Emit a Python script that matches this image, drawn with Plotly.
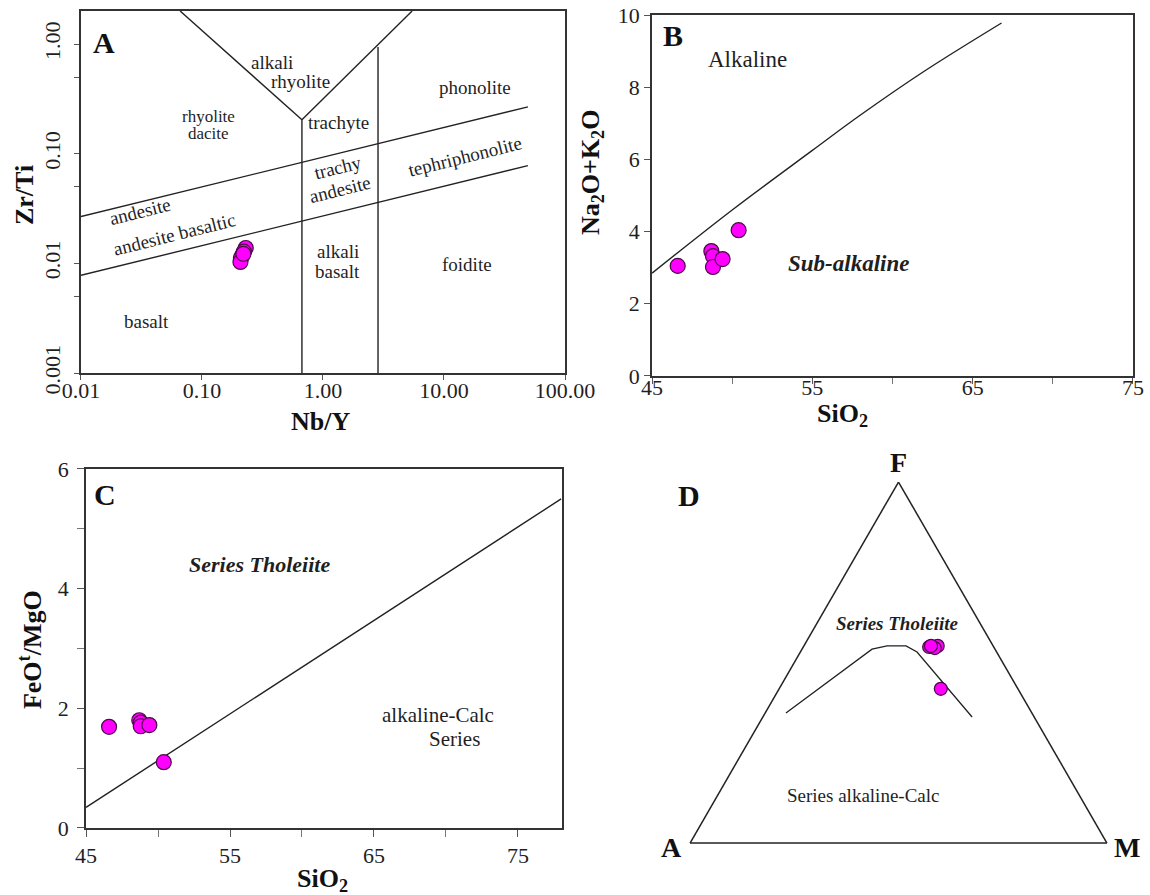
import plotly.graph_objects as go
import numpy as np

# ---------------- sample data ----------------
# Panel A: Nb/Y vs Zr/Ti
nb_y = [0.230, 0.222, 0.215, 0.210, 0.208, 0.220]
zr_ti = [0.0138, 0.0128, 0.0118, 0.0112, 0.0103, 0.0122]
# Panels B and C: SiO2, total alkalis, FeOt/MgO
sio2 = [46.6, 48.7, 48.8, 48.8, 49.4, 50.4]
alkalis = [3.05, 3.46, 3.32, 3.02, 3.24, 4.04]
feo_mgo = [1.69, 1.80, 1.76, 1.70, 1.72, 1.10]
# Panel D: AFM ternary (percent)
afm_F = [54.3, 54.3, 54.6, 54.0, 54.6, 42.7]
afm_A = [15.5, 14.6, 13.3, 14.3, 14.9, 18.5]
afm_M = [30.2, 31.1, 32.1, 31.7, 30.5, 38.8]

# ---------------- classification boundaries ----------------
# Panel A (Winchester & Floyd type diagram)
a_v_left_x = [0.066, 0.67]
a_v_left_y = [2.0, 0.204]
a_v_right_x = [0.67, 5.45]
a_v_right_y = [0.204, 2.0]
a_vert1_x = [0.67, 0.67]
a_vert1_y = [0.204, 0.001]
a_vert2_x = [2.85, 2.85]
a_vert2_y = [0.94, 0.001]
a_upper_x = [0.01, 49.4]
a_upper_y = [0.0267, 0.267]
a_lower_x = [0.01, 49.4]
a_lower_y = [0.00778, 0.0778]
# Panel B alkaline / sub-alkaline boundary
b_line_x = [45, 50, 55, 58, 62, 66.8]
b_line_y = [2.85, 4.6, 6.25, 7.23, 8.45, 9.78]
# Panel C tholeiite / calc-alkaline boundary
c_line_x = [45, 78]
c_line_y = [0.344, 5.5]
# Panel D boundary (F, A, M)
d_line_F = [36.0, 53.7, 54.6, 54.6, 52.9, 34.9]
d_line_A = [59.0, 29.5, 25.45, 20.9, 19.1, 14.9]
d_line_M = [5.0, 16.8, 19.95, 24.5, 28.0, 50.2]

# ---------------- styles ----------------
FONT = "Liberation Serif, Times New Roman, serif"
TXT = "#1f1f1f"
LINE = dict(color="#222222", width=1.4)
MK = dict(size=15, color="#FF00FF", line=dict(color="#4a0a46", width=1.2))

fig = go.Figure()

# Panel A lines
for xs, ys in [(a_v_left_x, a_v_left_y), (a_v_right_x, a_v_right_y),
               (a_vert1_x, a_vert1_y), (a_vert2_x, a_vert2_y),
               (a_upper_x, a_upper_y), (a_lower_x, a_lower_y)]:
    fig.add_trace(go.Scatter(x=xs, y=ys, mode="lines", line=LINE,
                             xaxis="x", yaxis="y", hoverinfo="skip"))
fig.add_trace(go.Scatter(x=nb_y, y=zr_ti, mode="markers", marker=MK,
                         xaxis="x", yaxis="y"))

# Panel B
fig.add_trace(go.Scatter(x=b_line_x, y=b_line_y, mode="lines", line=LINE,
                         line_shape="spline", xaxis="x2", yaxis="y2", hoverinfo="skip"))
fig.add_trace(go.Scatter(x=sio2, y=alkalis, mode="markers", marker=MK,
                         xaxis="x2", yaxis="y2"))

# Panel C
fig.add_trace(go.Scatter(x=c_line_x, y=c_line_y, mode="lines", line=LINE,
                         xaxis="x3", yaxis="y3", hoverinfo="skip"))
fig.add_trace(go.Scatter(x=sio2, y=feo_mgo, mode="markers", marker=MK,
                         xaxis="x3", yaxis="y3"))

# Panel D
fig.add_trace(go.Scatterternary(a=d_line_F, b=d_line_A, c=d_line_M, mode="lines",
                                line=dict(color="#222222", width=1.3), hoverinfo="skip"))
fig.add_trace(go.Scatterternary(a=afm_F, b=afm_A, c=afm_M, mode="markers",
                                marker=dict(size=13, color="#FF00FF",
                                            line=dict(color="#4a0a46", width=1.2))))

axis_common = dict(showline=True, mirror=True, linecolor="#333333", linewidth=1.6,
                   showgrid=False, zeroline=False, ticks="outside", tickcolor="#555555",
                   tickwidth=1.2, automargin=False,
                   tickfont=dict(family=FONT, size=22, color=TXT))

fig.update_layout(
    template="none",
    width=1150, height=895,
    margin=dict(l=0, r=0, t=0, b=0, pad=0, autoexpand=False),
    paper_bgcolor="white", plot_bgcolor="white",
    showlegend=False,
    font=dict(family=FONT, color=TXT),
    xaxis=dict(axis_common, type="log", range=[-2, 2], domain=[0.0704, 0.4913], anchor="y",
               tickvals=[0.01, 0.1, 1, 10, 100],
               ticktext=["0.01", "0.10", "1.00", "10.00", "100.00"], ticklen=5,
               ticklabelstandoff=-8),
    yaxis=dict(axis_common, type="log", range=[-3, 0.301], domain=[0.5832, 0.9877], anchor="x",
               tickvals=[0.001, 0.01, 0.1, 1], ticktext=["0.001", "0.01", "0.10", "1.00"],
               tickangle=-90, ticklen=5, ticklabelstandoff=5,
               minor=dict(tickvals=[0.005, 0.05, 0.5], ticks="outside", ticklen=5,
                          tickcolor="#555555")),
    xaxis2=dict(axis_common, range=[45, 75], domain=[0.5670, 0.9852], anchor="y2",
                tickvals=[45, 55, 65, 75], ticklen=6, ticklabelstandoff=-15,
                minor=dict(tickvals=[50, 60, 70], ticks="outside", ticklen=6,
                           tickcolor="#777777")),
    yaxis2=dict(axis_common, range=[0, 10], domain=[0.5799, 0.9832], anchor="x2",
                tickvals=[0, 2, 4, 6, 8, 10], ticklen=6),
    xaxis3=dict(axis_common, range=[45, 78.06], domain=[0.0748, 0.4887], anchor="y3",
                tickvals=[45, 55, 65, 75], ticklen=7,
                minor=dict(tickvals=[50, 60, 70], ticks="outside", ticklen=7,
                           tickcolor="#777777")),
    yaxis3=dict(axis_common, range=[0, 6], domain=[0.0749, 0.4760], anchor="x3",
                tickvals=[0, 2, 4, 6], ticklen=7, ticklabelstandoff=4,
                minor=dict(tickvals=[1, 3, 5], ticks="outside", ticklen=7,
                           tickcolor="#777777")),
    ternary=dict(
        domain=dict(x=[0.6, 0.96261], y=[0.0581, 0.46145]),
        sum=100, bgcolor="white",
        aaxis=dict(title=dict(text=""), showticklabels=False, ticks="", showgrid=False,
                   linecolor="#222222", linewidth=1.5),
        baxis=dict(title=dict(text=""), showticklabels=False, ticks="", showgrid=False,
                   linecolor="#222222", linewidth=1.5),
        caxis=dict(title=dict(text=""), showticklabels=False, ticks="", showgrid=False,
                   linecolor="#222222", linewidth=1.5),
    ),
)

ann = []


def add(text, x, y, xref, yref, size, angle=0, bold=False, italic=False, color=TXT):
    t = text
    if italic:
        t = "<i>" + t + "</i>"
    if bold:
        t = "<b>" + t + "</b>"
    ann.append(dict(text=t, x=x, y=y, xref=xref, yref=yref, showarrow=False,
                    textangle=angle, font=dict(family=FONT, size=size, color=color),
                    xanchor="center", yanchor="middle"))


# Panel A labels (log axes -> log10 coordinates)
add("A", -1.81, 0.018, "x", "y", 30, bold=True, color="#111")
add("alkali", -0.421, -0.173, "x", "y", 19)
add("rhyolite", -0.182, -0.346, "x", "y", 19)
add("rhyolite", -0.942, -0.665, "x", "y", 17)
add("dacite", -0.950, -0.820, "x", "y", 17)
add("trachyte", 0.132, -0.720, "x", "y", 19)
add("phonolite", 1.256, -0.392, "x", "y", 19)
add("trachy", 0.124, -1.130, "x", "y", 19, angle=-14)
add("andesite", 0.140, -1.331, "x", "y", 19, angle=-14)
add("tephriphonolite", 1.174, -1.030, "x", "y", 19, angle=-14)
add("andesite", -1.512, -1.531, "x", "y", 19, angle=-14)
add("andesite basaltic", -1.231, -1.741, "x", "y", 19, angle=-14)
add("basalt", -1.455, -2.534, "x", "y", 19)
add("alkali", 0.124, -1.896, "x", "y", 19)
add("basalt", 0.124, -2.078, "x", "y", 19)
add("foidite", 1.190, -2.014, "x", "y", 19)
add("Zr/Ti", 0.0209, 0.7821, "paper", "paper", 26, angle=-90, bold=True, color="#111")
add("Nb/Y", 0.2783, 0.5296, "paper", "paper", 26, bold=True, color="#111")

# Panel B labels
add("B", 46.31, 9.42, "x2", "y2", 30, bold=True, color="#111")
add("Alkaline", 50.93, 8.78, "x2", "y2", 23)
add("Sub-alkaline", 57.23, 3.13, "x2", "y2", 23, bold=True, italic=True)
add("Na<sub>2</sub>O+K<sub>2</sub>O", 0.5148, 0.8067, "paper", "paper", 26, angle=-90,
    bold=True, color="#111")
add("SiO<sub>2</sub>", 0.7322, 0.5363, "paper", "paper", 26, bold=True, color="#111")

# Panel C labels
add("C", 46.32, 5.57, "x3", "y3", 30, bold=True, color="#111")
add("Series Tholeiite", 57.08, 4.41, "x3", "y3", 22, bold=True, italic=True)
add("alkaline-Calc", 69.44, 1.88, "x3", "y3", 21)
add("Series", 70.56, 1.48, "x3", "y3", 21)
add("FeO<sup>t</sup>/MgO", 0.0261, 0.2737, "paper", "paper", 26, angle=-90,
    bold=True, color="#111")
add("SiO<sub>2</sub>", 0.2800, 0.0168, "paper", "paper", 26, bold=True, color="#111")

# Panel D labels
add("D", 0.5991, 0.4469, "paper", "paper", 30, bold=True, color="#111")
add("F", 898 / 1150, 1 - 463 / 895, "paper", "paper", 28, bold=True, color="#111")
add("A", 671 / 1150, 1 - 847 / 895, "paper", "paper", 28, bold=True, color="#111")
add("M", 1127 / 1150, 1 - 847 / 895, "paper", "paper", 28, bold=True, color="#111")
add("Series Tholeiite", 0.7800, 0.3039, "paper", "paper", 19, bold=True, italic=True)
add("Series alkaline-Calc", 0.7504, 0.1117, "paper", "paper", 19)

fig.update_layout(annotations=ann)
fig.write_html("out.html")
